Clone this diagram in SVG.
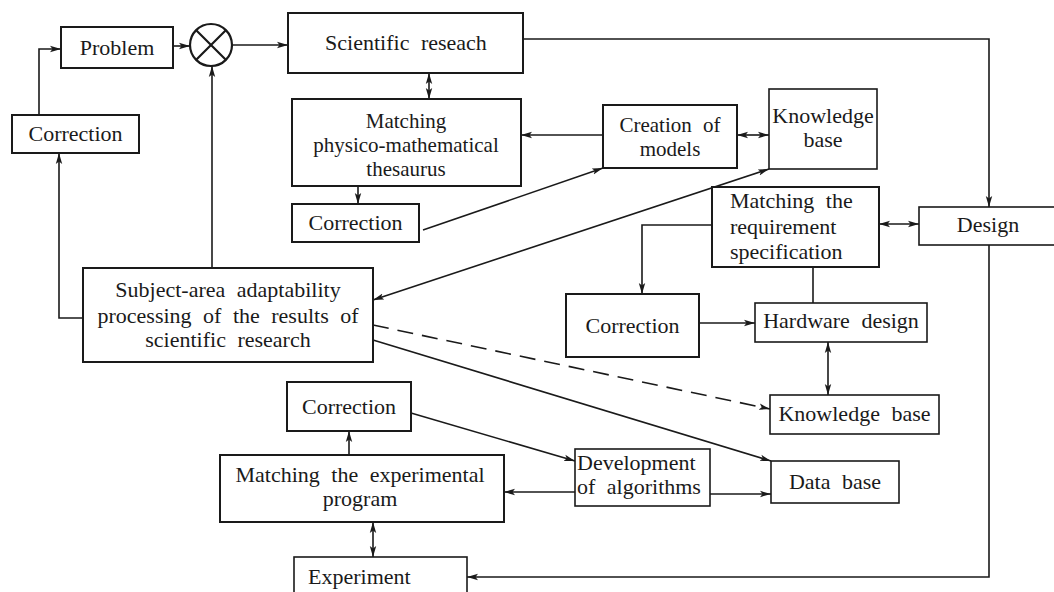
<svg xmlns="http://www.w3.org/2000/svg" width="1054" height="592" viewBox="0 0 1054 592">
<defs>
<marker id="arr" markerUnits="userSpaceOnUse" markerWidth="12" markerHeight="8" refX="11" refY="4" orient="auto-start-reverse">
<path d="M0,0.8 L11,4 L0,7.2 L2.5,4 Z" fill="#1a1a1a"/>
</marker>
</defs>
<style>
rect.b{fill:#fff;stroke:#1a1a1a;stroke-width:2}
rect.t{fill:#fff;stroke:#1a1a1a;stroke-width:1.6}
text{font-family:"Liberation Serif","Times New Roman",serif;font-size:22px;fill:#1a1a1a;word-spacing:6px}
text.s{font-size:21px}
.m{text-anchor:middle}
#connectors path{fill:none;stroke:#1a1a1a;stroke-width:1.6}
#connectors .e{marker-end:url(#arr)}
#connectors .d{marker-start:url(#arr);marker-end:url(#arr)}
#connectors .dash{stroke-dasharray:16 9}
</style>
<rect width="1054" height="592" fill="#fff"/>

<g id="connectors">
<path class="e" d="M39,115 V49 H61"/>
<path class="e" d="M83,318 H59 V153"/>
<path class="e" d="M173,46 H190"/>
<path class="e" d="M232,45 H288"/>
<path class="e" d="M212,268 V66"/>
<path class="d" d="M429,73 V99"/>
<path class="e" d="M603,135 H521"/>
<path class="d" d="M737,135 H769"/>
<path class="e" d="M358,186 V204"/>
<path class="e" d="M423,230 L603,168"/>
<path class="d" d="M769,169 L373,300"/>
<path class="e" d="M523,39 H989 V207"/>
<path class="d" d="M879,224 H919"/>
<path class="e" d="M712,225 H642 V294"/>
<path d="M813,267 V303"/>
<path class="e" d="M699,323 H755"/>
<path class="d" d="M828,342 V395"/>
<path class="e dash" d="M373,325 L770,409"/>
<path class="e" d="M373,340 L771,461"/>
<path class="e" d="M349,455 V431"/>
<path class="e" d="M411,413 L575,461"/>
<path class="e" d="M575,492 H504"/>
<path class="e" d="M710,494 H771"/>
<path class="d" d="M373,522 V557"/>
<path class="e" d="M989,245 V577 H467"/>
</g>

<g id="problem"><rect class="b" x="61" y="27" width="112" height="41"/><text class="m" x="117" y="55">Problem</text></g>
<g id="sum"><circle cx="211" cy="45" r="21" fill="#fff" stroke="#1a1a1a" stroke-width="2.2"/><path d="M196.2,30.2 L225.8,59.8 M225.8,30.2 L196.2,59.8" stroke="#1a1a1a" stroke-width="2.2"/></g>
<g id="scientific"><rect class="b" x="288" y="13" width="235" height="60"/><text class="m" x="406" y="50">Scientific reseach</text></g>
<g id="correction-left"><rect class="b" x="12" y="115" width="127" height="38"/><text class="m" x="75.5" y="141">Correction</text></g>
<g id="matching-pm"><rect class="b" x="292" y="99" width="229" height="87"/><text class="m s" x="406" y="128">Matching</text><text class="m s" x="406" y="152">physico-mathematical</text><text class="m s" x="406" y="176">thesaurus</text></g>
<g id="correction-mid"><rect class="b" x="292" y="204" width="127" height="38"/><text class="m" x="355.5" y="230">Correction</text></g>
<g id="creation"><rect class="b" x="603" y="105" width="134" height="63"/><text class="m s" x="670" y="132">Creation of</text><text class="m s" x="670" y="156">models</text></g>
<g id="kb-top"><rect class="t" x="769" y="89" width="108" height="80"/><text class="m" x="823" y="123">Knowledge</text><text class="m" x="823" y="147">base</text></g>
<g id="req-spec"><rect class="b" x="712" y="187" width="167" height="80"/><text x="730" y="208">Matching the</text><text x="730" y="234">requirement</text><text x="730" y="259">specification</text></g>
<g id="design"><rect class="t" x="919" y="207" width="140" height="38"/><text class="m" x="988" y="232">Design</text></g>
<g id="subject"><rect class="b" x="83" y="268" width="290" height="94"/><text class="m" x="228" y="297">Subject-area adaptability</text><text class="m" x="228" y="323">processing of the results of</text><text class="m" x="228" y="347">scientific research</text></g>
<g id="correction-right"><rect class="b" x="566" y="294" width="133" height="63"/><text class="m" x="632.5" y="333">Correction</text></g>
<g id="hardware"><rect class="t" x="755" y="303" width="172" height="39"/><text class="m" x="841" y="328">Hardware design</text></g>
<g id="kb-lower"><rect class="t" x="770" y="395" width="169" height="39"/><text class="m" x="854.5" y="421">Knowledge base</text></g>
<g id="database"><rect class="t" x="771" y="461" width="128" height="42"/><text class="m" x="835" y="489">Data base</text></g>
<g id="correction-bottom"><rect class="b" x="287" y="382" width="124" height="49"/><text class="m" x="349" y="414">Correction</text></g>
<g id="matching-exp"><rect class="b" x="220" y="455" width="284" height="67"/><text class="m" x="360" y="482">Matching the experimental</text><text class="m" x="360" y="506">program</text></g>
<g id="development"><rect class="t" x="575" y="449" width="135" height="57"/><text x="577" y="470">Development</text><text x="577" y="494">of algorithms</text></g>
<g id="experiment"><rect class="t" x="294" y="557" width="173" height="60"/><text x="308" y="584">Experiment</text></g>
</svg>
